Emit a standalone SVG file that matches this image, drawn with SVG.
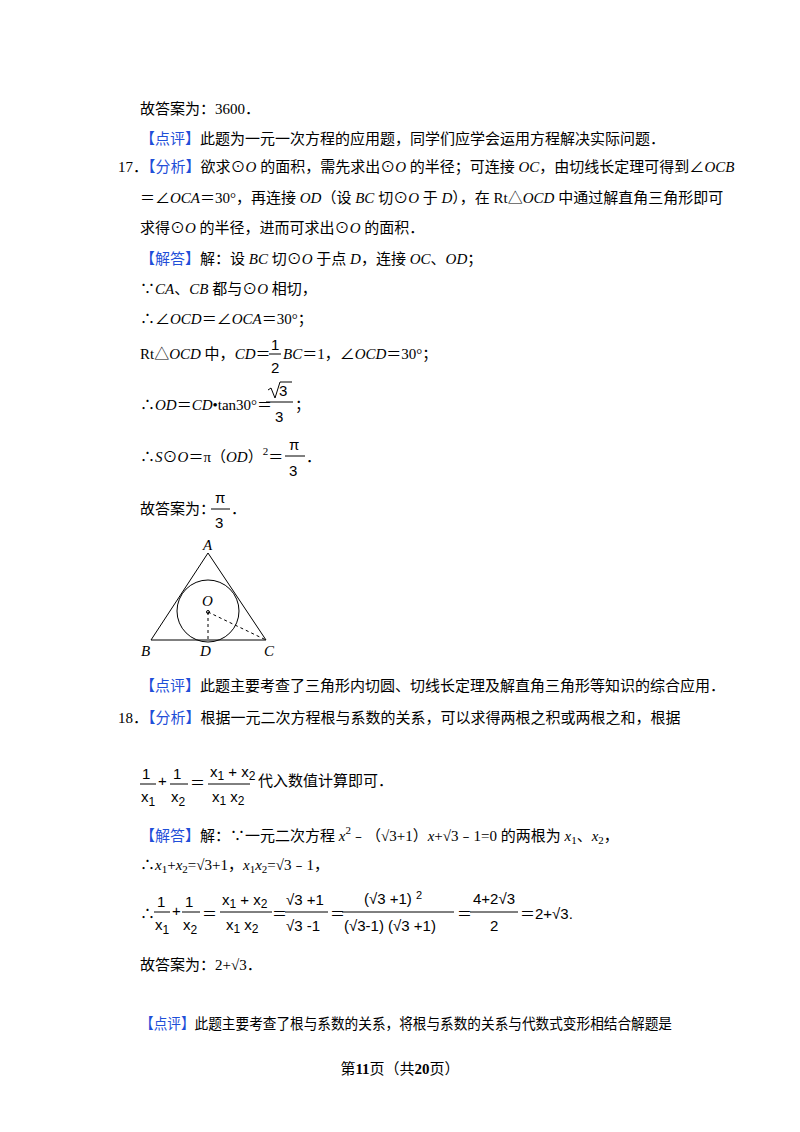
<svg xmlns="http://www.w3.org/2000/svg" width="800" height="1132" viewBox="0 0 800 1132">
<style>
text{font-family:"Liberation Serif","Noto Sans CJK SC",serif;font-size:15px;fill:#000}
.b{fill:#1f4fd8}
.i{font-style:italic}
.m{font-family:"Liberation Sans","Noto Sans CJK SC",sans-serif}
.s{font-size:11px}
line,path,circle,polygon{stroke:#000;fill:none}
</style>
<rect width="800" height="1132" fill="#fff"/>
<text x="140" y="114">故答案为：3600．</text>
<text x="140" y="144"><tspan class="b">【点评】</tspan>此题为一元一次方程的应用题，同学们应学会运用方程解决实际问题．</text>
<text x="118" y="172">17．<tspan class="b">【分析】</tspan>欲求⊙<tspan class="i">O</tspan> 的面积，需先求出⊙<tspan class="i">O</tspan> 的半径；可连接 <tspan class="i">OC</tspan>，由切线长定理可得到∠<tspan class="i">OCB</tspan></text>
<text x="140" y="203">＝∠<tspan class="i">OCA</tspan>＝30°，再连接 <tspan class="i">OD</tspan>（设 <tspan class="i">BC</tspan> 切⊙<tspan class="i">O</tspan> 于 <tspan class="i">D</tspan>），在 Rt△<tspan class="i">OCD</tspan> 中通过解直角三角形即可</text>
<text x="140" y="233">求得⊙<tspan class="i">O</tspan> 的半径，进而可求出⊙<tspan class="i">O</tspan> 的面积．</text>
<text x="140" y="264"><tspan class="b">【解答】</tspan>解：设 <tspan class="i">BC</tspan> 切⊙<tspan class="i">O</tspan> 于点 <tspan class="i">D</tspan>，连接 <tspan class="i">OC</tspan>、<tspan class="i">OD</tspan>；</text>
<text x="140" y="294">∵<tspan class="i">CA</tspan>、<tspan class="i">CB</tspan> 都与⊙<tspan class="i">O</tspan> 相切，</text>
<text x="140" y="324">∴∠<tspan class="i">OCD</tspan>＝∠<tspan class="i">OCA</tspan>＝30°；</text>
<text x="140" y="359">Rt△<tspan class="i">OCD</tspan> 中，<tspan class="i">CD</tspan>＝</text>
<text x="271" y="350" class="m" font-size="17">1</text>
<line x1="269" y1="354" x2="281" y2="354"/>
<text x="271" y="373" class="m" font-size="17">2</text>
<text x="283" y="359"><tspan class="i">BC</tspan>＝1，∠<tspan class="i">OCD</tspan>＝30°；</text>
<text x="140" y="410">∴<tspan class="i">OD</tspan>＝<tspan class="i">CD</tspan>•tan30°＝</text>
<path d="M268,390 l3,-2 4,10 5,-16 h12"/>
<text x="279" y="396" class="m" font-size="17">3</text>
<line x1="266" y1="402" x2="293" y2="402"/>
<text x="275" y="422" class="m" font-size="17">3</text>
<text x="295" y="410">；</text>
<text x="140" y="462">∴<tspan class="i">S</tspan>⊙<tspan class="i">O</tspan>＝π（<tspan class="i">OD</tspan>）<tspan class="s" dy="-7">2</tspan><tspan dy="7">＝</tspan></text>
<text x="289" y="450" class="m" font-size="16">π</text>
<line x1="285" y1="456" x2="305" y2="456"/>
<text x="289" y="476" class="m" font-size="16">3</text>
<text x="306" y="462">．</text>
<text x="140" y="514">故答案为：</text>
<text x="215" y="503" class="m" font-size="16">π</text>
<line x1="211" y1="509" x2="230" y2="509"/>
<text x="215" y="528" class="m" font-size="16">3</text>
<text x="231" y="514">．</text>
<g id="figure">
<polygon points="208,553 151,640 266,640"/>
<circle cx="208" cy="611" r="31"/>
<line x1="208" y1="612" x2="208" y2="640" stroke-dasharray="3,3"/>
<line x1="208" y1="612" x2="266" y2="640" stroke-dasharray="3,3"/>
<circle cx="208" cy="612" r="1.5" fill="#000"/>
<text x="203" y="550" class="i" font-size="13">A</text>
<text x="141" y="656" class="i" font-size="13">B</text>
<text x="200" y="656" class="i" font-size="13">D</text>
<text x="264" y="656" class="i" font-size="13">C</text>
<text x="202" y="606" class="i" font-size="13">O</text>
</g>
<text x="140" y="691"><tspan class="b">【点评】</tspan>此题主要考查了三角形内切圆、切线长定理及解直角三角形等知识的综合应用．</text>
<text x="118" y="723">18．<tspan class="b">【分析】</tspan>根据一元二次方程根与系数的关系，可以求得两根之积或两根之和，根据</text>
<g class="frac1">
<text x="142" y="779" class="m" font-size="17">1</text>
<line x1="140" y1="784" x2="156" y2="784"/>
<text x="141" y="802" class="m" font-size="14">x<tspan dy="4" font-size="12">1</tspan></text>
<text x="158" y="786" class="m" font-size="12">+</text>
<text x="173" y="779" class="m" font-size="17">1</text>
<line x1="170" y1="784" x2="188" y2="784"/>
<text x="171" y="802" class="m" font-size="14">x<tspan dy="4" font-size="12">2</tspan></text>
<text x="190" y="788">＝</text>
<text x="210" y="777" class="m" font-size="14">x<tspan font-size="12" dy="3">1</tspan><tspan dy="-3"> + x</tspan><tspan font-size="12" dy="3">2</tspan></text>
<line x1="208" y1="784" x2="250" y2="784"/>
<text x="212" y="802" class="m" font-size="14">x<tspan font-size="12" dy="3">1</tspan><tspan dy="-3"> x</tspan><tspan font-size="12" dy="3">2</tspan></text>
<text x="258" y="786">代入数值计算即可．</text>
</g>
<text x="140" y="841"><tspan class="b">【解答】</tspan>解：∵一元二次方程 <tspan class="i">x</tspan><tspan class="s" dy="-7">2</tspan><tspan dy="7">﹣（√3+1）</tspan><tspan class="i">x</tspan>+√3﹣1=0 的两根为 <tspan class="i">x</tspan><tspan class="s" dy="3">1</tspan><tspan dy="-3">、</tspan><tspan class="i">x</tspan><tspan class="s" dy="3">2</tspan><tspan dy="-3">，</tspan></text>
<text x="140" y="870">∴<tspan class="i">x</tspan><tspan class="s" dy="3">1</tspan><tspan dy="-3">+</tspan><tspan class="i">x</tspan><tspan class="s" dy="3">2</tspan><tspan dy="-3">=√3+1，</tspan><tspan class="i">x</tspan><tspan class="s" dy="3">1</tspan><tspan class="i" dy="-3">x</tspan><tspan class="s" dy="3">2</tspan><tspan dy="-3">=√3﹣1，</tspan></text>
<g class="frac2" transform="translate(0,-18)">
<text x="140" y="937">∴</text>
<text x="157" y="925" class="m" font-size="17">1</text>
<line x1="154" y1="930" x2="170" y2="930"/>
<text x="155" y="948" class="m" font-size="14">x<tspan dy="4" font-size="12">1</tspan></text>
<text x="172" y="934" class="m" font-size="12">+</text>
<text x="185" y="925" class="m" font-size="17">1</text>
<line x1="182" y1="930" x2="200" y2="930"/>
<text x="183" y="948" class="m" font-size="14">x<tspan dy="4" font-size="12">2</tspan></text>
<text x="202" y="937">＝</text>
<text x="222" y="923" class="m" font-size="14">x<tspan font-size="12" dy="3">1</tspan><tspan dy="-3"> + x</tspan><tspan font-size="12" dy="3">2</tspan></text>
<line x1="220" y1="930" x2="272" y2="930"/>
<text x="226" y="948" class="m" font-size="14">x<tspan font-size="12" dy="3">1</tspan><tspan dy="-3"> x</tspan><tspan font-size="12" dy="3">2</tspan></text>
<text x="272" y="937">＝</text>
<text x="286" y="923" class="m" font-size="15">√3 +1</text>
<line x1="285" y1="930" x2="328" y2="930"/>
<text x="286" y="949" class="m" font-size="15">√3 -1</text>
<text x="330" y="937">＝</text>
<text x="364" y="922" class="m" font-size="15">(√3 +1) <tspan font-size="11" dy="-5">2</tspan></text>
<line x1="342" y1="930" x2="454" y2="930"/>
<text x="344" y="949" class="m" font-size="15">(√3-1) (√3 +1)</text>
<text x="457" y="937">＝</text>
<text x="473" y="922" class="m" font-size="15">4+2√3</text>
<line x1="470" y1="930" x2="518" y2="930"/>
<text x="490" y="949" class="m" font-size="15">2</text>
<text x="520" y="937" class="m">＝2+√3.</text>
</g>
<text x="140" y="970">故答案为：2+√3．</text>
<text x="140" y="1029" textLength="532" lengthAdjust="spacingAndGlyphs"><tspan class="b">【点评】</tspan>此题主要考查了根与系数的关系，将根与系数的关系与代数式变形相结合解题是</text>
<text x="400" y="1074" text-anchor="middle" font-size="13">第<tspan font-weight="bold" font-size="15">11</tspan>页（共<tspan font-weight="bold" font-size="15">20</tspan>页）</text>
</svg>
